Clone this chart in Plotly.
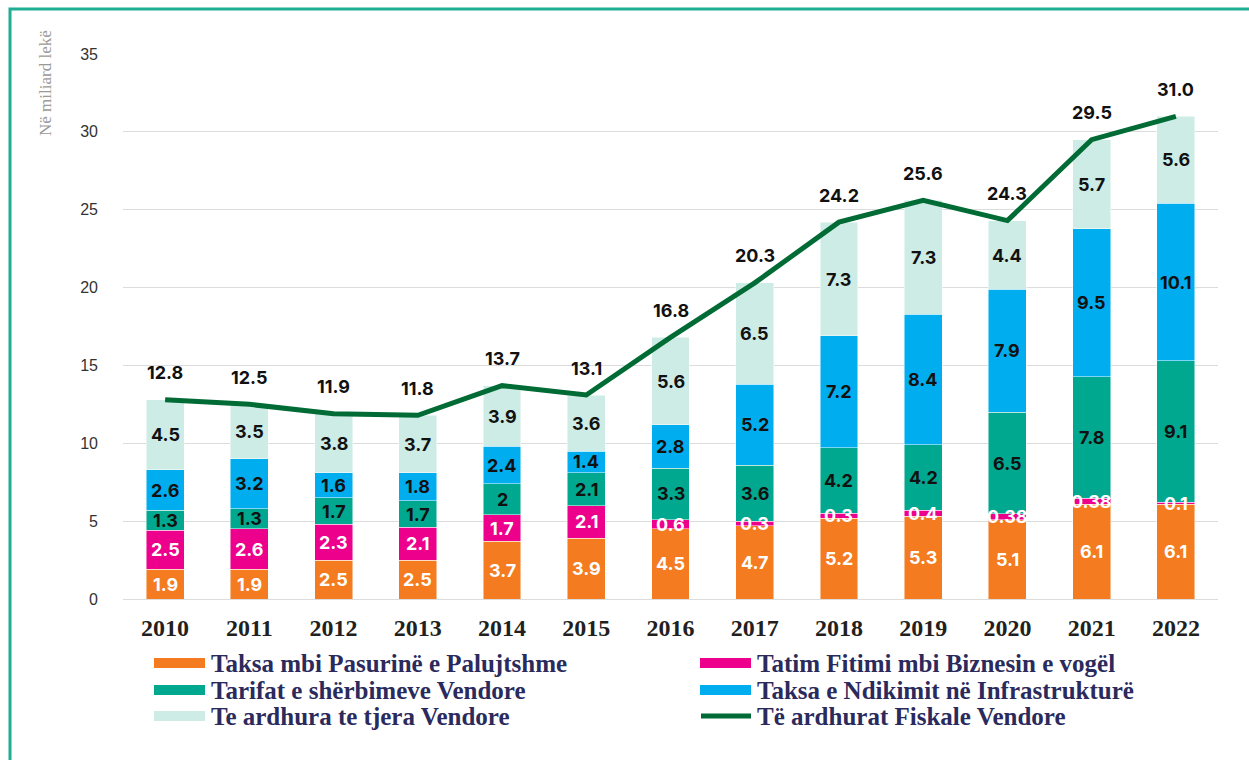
import plotly.graph_objects as go

years = ["2010", "2011", "2012", "2013", "2014", "2015", "2016",
         "2017", "2018", "2019", "2020", "2021", "2022"]
pasuri = [1.9, 1.9, 2.5, 2.5, 3.7, 3.9, 4.5, 4.7, 5.2, 5.3, 5.1, 6.1, 6.1]
tatim = [2.5, 2.6, 2.3, 2.1, 1.7, 2.1, 0.6, 0.3, 0.3, 0.4, 0.38, 0.38, 0.1]
tarifat = [1.3, 1.3, 1.7, 1.7, 2, 2.1, 3.3, 3.6, 4.2, 4.2, 6.5, 7.8, 9.1]
ndikimi = [2.6, 3.2, 1.6, 1.8, 2.4, 1.4, 2.8, 5.2, 7.2, 8.4, 7.9, 9.5, 10.1]
tjera = [4.5, 3.5, 3.8, 3.7, 3.9, 3.6, 5.6, 6.5, 7.3, 7.3, 4.4, 5.7, 5.6]
totali = [12.8, 12.5, 11.9, 11.8, 13.7, 13.1, 16.8, 20.3, 24.2, 25.6, 24.3, 29.5, 31.0]
y_ticks = [0, 5, 10, 15, 20, 25, 30, 35]

bar_series = [
    ("Taksa mbi Pasurinë e Palujtshme", pasuri, "#f47b20", "white"),
    ("Tatim Fitimi mbi Biznesin e vogël", tatim, "#ec008c", "white"),
    ("Tarifat e shërbimeve Vendore", tarifat, "#00a88f", "#111111"),
    ("Taksa e Ndikimit në Infrastrukturë", ndikimi, "#00aeef", "#111111"),
    ("Te ardhura te tjera Vendore", tjera, "#cdece6", "#111111"),
]
line_name = "Të ardhurat Fiskale Vendore"
line_color = "#006b35"

W, H = 1249, 760
L, R, T, B = 123, 31, 54, 161
PW, PH = W - L - R, H - T - B

def px(x):
    return (x - L) / PW

def py(y):
    return (H - B - y) / PH

label_font = "Inter, Liberation Sans, sans-serif"

fig = go.Figure()
annotations = []
base = [0.0] * len(years)
for name, vals, color, tcol in bar_series:
    fig.add_trace(go.Bar(
        x=list(range(len(years))), y=vals, name=name, marker_color=color,
        marker_line=dict(color="rgba(255,255,255,0.6)", width=0.8),
        width=0.45, showlegend=True, hoverinfo="skip",
    ))
    for i, v in enumerate(vals):
        annotations.append(dict(
            x=i, y=base[i] + v / 2, xref="x", yref="y", text=f"{v:g}",
            showarrow=False, xanchor="center", yanchor="middle",
            font=dict(family=label_font, size=18, color=tcol, weight="bold"),
        ))
        base[i] += v

fig.add_trace(go.Scatter(
    x=list(range(len(years))), y=totali, mode="lines", name=line_name,
    line=dict(color=line_color, width=5), showlegend=True,
))

for i, v in enumerate(totali):
    annotations.append(dict(
        x=i, y=v, xref="x", yref="y", text=f"{v:.1f}", showarrow=False,
        yshift=27, xanchor="center", yanchor="middle",
        font=dict(family=label_font, size=18, color="#111111", weight="bold"),
    ))

# y-axis title
annotations.append(dict(
    x=px(46), y=py(83), xref="paper", yref="paper", text="Në miliard lekë",
    showarrow=False, textangle=-90, xanchor="center", yanchor="middle",
    font=dict(family="Liberation Serif, serif", size=17, color="#9a9a9a"),
))

# legend drawn as swatches + labels
legend_items = [
    (bar_series[0][0], bar_series[0][2], "bar", 154, 663),
    (bar_series[1][0], bar_series[1][2], "bar", 700, 663),
    (bar_series[2][0], bar_series[2][2], "bar", 154, 690),
    (bar_series[3][0], bar_series[3][2], "bar", 700, 690),
    (bar_series[4][0], bar_series[4][2], "bar", 154, 716),
    (line_name, line_color, "line", 700, 716),
]
shapes = []
for name, color, kind, x0, yc in legend_items:
    if kind == "bar":
        shapes.append(dict(type="rect", xref="paper", yref="paper",
                           x0=px(x0), x1=px(x0 + 51), y0=py(yc - 5), y1=py(yc + 5),
                           fillcolor=color, line=dict(width=0)))
    else:
        shapes.append(dict(type="line", xref="paper", yref="paper",
                           x0=px(x0 + 1), x1=px(x0 + 51), y0=py(yc), y1=py(yc),
                           line=dict(color=color, width=5)))
    annotations.append(dict(
        x=px(x0 + 55), y=py(yc), xref="paper", yref="paper", text=name,
        showarrow=False, xanchor="left", yanchor="middle",
        font=dict(family="Liberation Serif, serif", size=25, color="#2b2a5c",
                  weight="bold"),
    ))

# frame border
shapes.append(dict(type="path", xref="paper", yref="paper",
                   path=f"M {px(10)},{py(762)} L {px(10)},{py(9)} L {px(1252)},{py(9)}",
                   line=dict(color="#1fae94", width=3)))

fig.update_layout(
    width=W, height=H, barmode="stack",
    margin=dict(l=L, r=R, t=T, b=B),
    plot_bgcolor="white", paper_bgcolor="white",
    annotations=annotations, shapes=shapes, showlegend=False,
    xaxis=dict(range=[-0.5, 12.5], tickvals=list(range(len(years))),
               ticktext=years, showgrid=False, zeroline=False,
               showline=False, ticks="", ticklabelstandoff=12,
               tickfont=dict(family="Liberation Serif, serif", size=24,
                             color="#231f20", weight="bold")),
    yaxis=dict(range=[0, 35], tickvals=y_ticks, showgrid=True,
               gridcolor="#dcdcdc", gridwidth=1, zeroline=True,
               zerolinecolor="#dcdcdc", zerolinewidth=1, showline=False,
               ticklabelstandoff=24,
               tickfont=dict(family="Liberation Sans, Arial, sans-serif",
                             size=16, color="#333333")),
)

fig.write_html("out.html", config={"displayModeBar": False},
               post_script="document.body.style.margin='0';")
